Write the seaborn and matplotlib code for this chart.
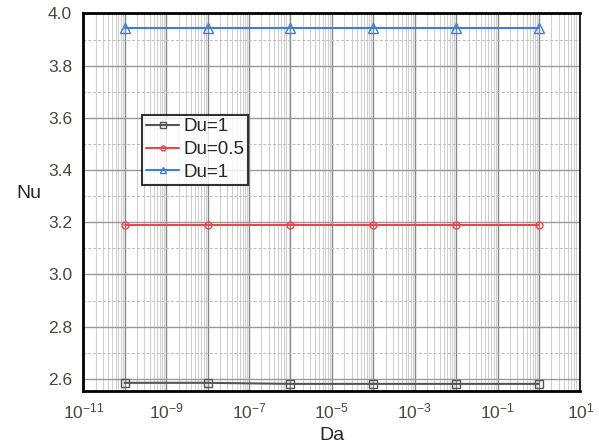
import matplotlib
matplotlib.use("Agg")
import matplotlib.pyplot as plt
from matplotlib.ticker import LogLocator, MultipleLocator, NullFormatter
import numpy as np
import pandas as pd
import seaborn as sns

# data
da = [1e-10, 1e-8, 1e-6, 1e-4, 1e-2, 1.0]
nu_black = [2.585, 2.585, 2.581, 2.581, 2.581, 2.581]
nu_red = [3.19, 3.19, 3.19, 3.19, 3.19, 3.19]
nu_blue = [3.945, 3.945, 3.945, 3.945, 3.945, 3.945]
labels = ["Du=1", "Du=0.5", "Du=1 "]

sns.set_style("white")
plt.rcParams['font.family'] = ['Liberation Sans', 'DejaVu Sans']

df = pd.DataFrame({
    "Da": da * 3,
    "Nu": nu_black + nu_red + nu_blue,
    "series": [labels[0]] * 6 + [labels[1]] * 6 + [labels[2]] * 6,
})

fig = plt.figure(figsize=(5.99, 4.48), dpi=100)
ax = fig.add_axes([0.139, 0.128, 0.830, 0.842])

pal = {labels[0]: "#555555", labels[1]: "#e8474b", labels[2]: "#3a7fe0"}
mk = {labels[0]: "s", labels[1]: "o", labels[2]: "^"}
sizes = {labels[0]: 6, labels[1]: 5, labels[2]: 7}
for lab in labels:
    sub = df[df["series"] == lab]
    sns.lineplot(data=sub, x="Da", y="Nu", ax=ax, color=pal[lab], marker=mk[lab],
                 markersize=sizes[lab], markerfacecolor="none", markeredgecolor=pal[lab],
                 markeredgewidth=1.0, linewidth=1.5, label=lab.strip())

ax.set_xscale("log")
ax.set_xlim(1e-11, 10)
ax.set_ylim(2.555, 4.0)
ax.xaxis.set_minor_locator(LogLocator(base=10, subs=np.arange(2, 10), numticks=100))
ax.xaxis.set_minor_formatter(NullFormatter())
ax.set_xticks([10.0**k for k in range(-11, 2, 2)])
ax.set_xticklabels([r"$\mathregular{10^{%d}}$" % k for k in range(-11, 2, 2)])
ax.yaxis.set_major_locator(MultipleLocator(0.2))
ax.yaxis.set_minor_locator(MultipleLocator(0.1))
ax.yaxis.set_major_formatter(matplotlib.ticker.FormatStrFormatter("%.1f"))

# grid
for k in range(-11, 2):
    ax.axvline(10.0**k, color="#888888", linewidth=1.0, zorder=0)
ax.grid(True, which="minor", axis="x", color="#d0d0d0", linewidth=0.8)
ax.grid(True, which="major", axis="y", color="#999999", linewidth=1.0)
ax.grid(True, which="minor", axis="y", color="#bbbbbb", linewidth=0.7, linestyle=(0, (3, 2)))
ax.set_axisbelow(True)

for side in ["left", "bottom", "top"]:
    ax.spines[side].set_linewidth(2.0)
    ax.spines[side].set_color("black")
ax.spines["right"].set_linewidth(1.2)
ax.spines["right"].set_color("black")

ax.tick_params(axis="both", which="both", length=0, labelsize=12.5, colors="#4a4540", pad=8)
ax.set_xlabel("Da", fontsize=14, labelpad=4)
ax.set_ylabel("Nu", fontsize=14, rotation=0, labelpad=14)

leg = ax.legend(loc="upper left", bbox_to_anchor=(0.118, 0.732), fontsize=13.5,
                frameon=True, fancybox=False, edgecolor="black", borderpad=0.2,
                labelspacing=0.3, handlelength=1.8, handletextpad=0.2, borderaxespad=0,
                markerscale=0.7)
leg.get_frame().set_linewidth(1.5)

fig.savefig("out.png", dpi=100)
